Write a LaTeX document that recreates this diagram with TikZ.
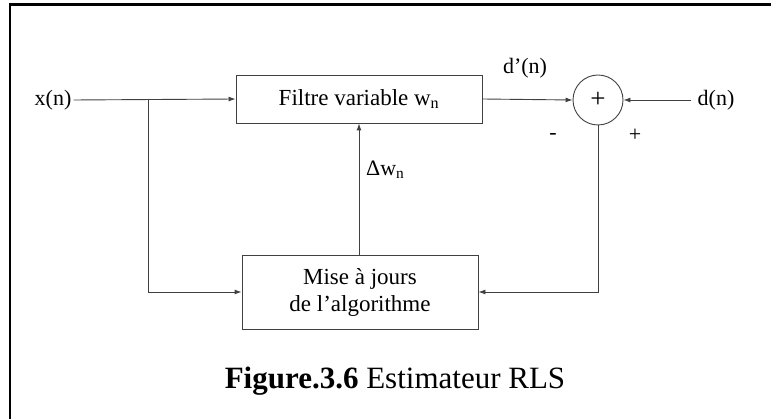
\documentclass[tikz,border=0pt]{standalone}
\usepackage{fontspec}
\setmainfont{Liberation Serif}
\usetikzlibrary{arrows.meta,positioning}

\begin{document}
\begin{tikzpicture}[x=1pt, y=-1pt, >={Latex[length=7pt,width=5pt]},
    bloc/.style={draw=black!75, line width=0.9pt, fill=white, align=center,
        font=\fontsize{23}{27}\selectfont},
    somme/.style={draw=black!75, line width=0.9pt, circle, minimum size=50pt,
        inner sep=0pt, font=\fontsize{27}{30}\selectfont},
    lien/.style={draw=black!75, line width=0.9pt},
    etiq/.style={inner sep=2pt, font=\fontsize{22}{27}\selectfont}]
    \useasboundingbox (0,0) rectangle (771,419);
    % 1. Cadre de la figure
    \draw[line width=2.5pt] (10,419) -- (10,4.5) -- (771,4.5);

    % 2. Blocs et sommateur
    \node[bloc, minimum width=246pt, minimum height=48pt] (filtre) at (359,99)
        {Filtre variable w\textsubscript{n}};
    \node[bloc, minimum width=236pt, minimum height=74pt] (mise) at (360,292)
        {Mise à jours\\de l’algorithme};
    \node[somme] (sum) at (598,100) {+};

    % Entrees, sorties
    \node[etiq] (xn) at (53,100) {x(n)};
    \node[etiq, inner sep=6pt] (dn) at (716,100) {d(n)};
    \coordinate (branche) at (148,100);

    % 3. Connexions
    \draw[lien, ->] (xn.east) -- (filtre.west);
    \draw[lien, ->] (branche) |- (mise.west);
    \draw[lien, ->] (filtre.east) -- (sum.west);
    \draw[lien, ->] (dn.west) -- (sum.east);
    \draw[lien, ->] (sum.south) |- (mise.east);
    \draw[lien, ->] (mise.north -| filtre.south) -- (filtre.south);

    % Etiquettes des signaux
    \node[etiq] (dprime) at (525,68) {d’(n)};
    \node[etiq] (moins) at (553,137) {-};
    \node[etiq] (plus) at (635,135) {+};
    \node[etiq, anchor=west] (dw) at (364,170) {Δw\textsubscript{n}};

    % 4. Legende
    \node[font=\fontsize{31}{36}\selectfont] (legende) at (395,381)
        {\textbf{Figure.3.6} Estimateur RLS};
\end{tikzpicture}
\end{document}
